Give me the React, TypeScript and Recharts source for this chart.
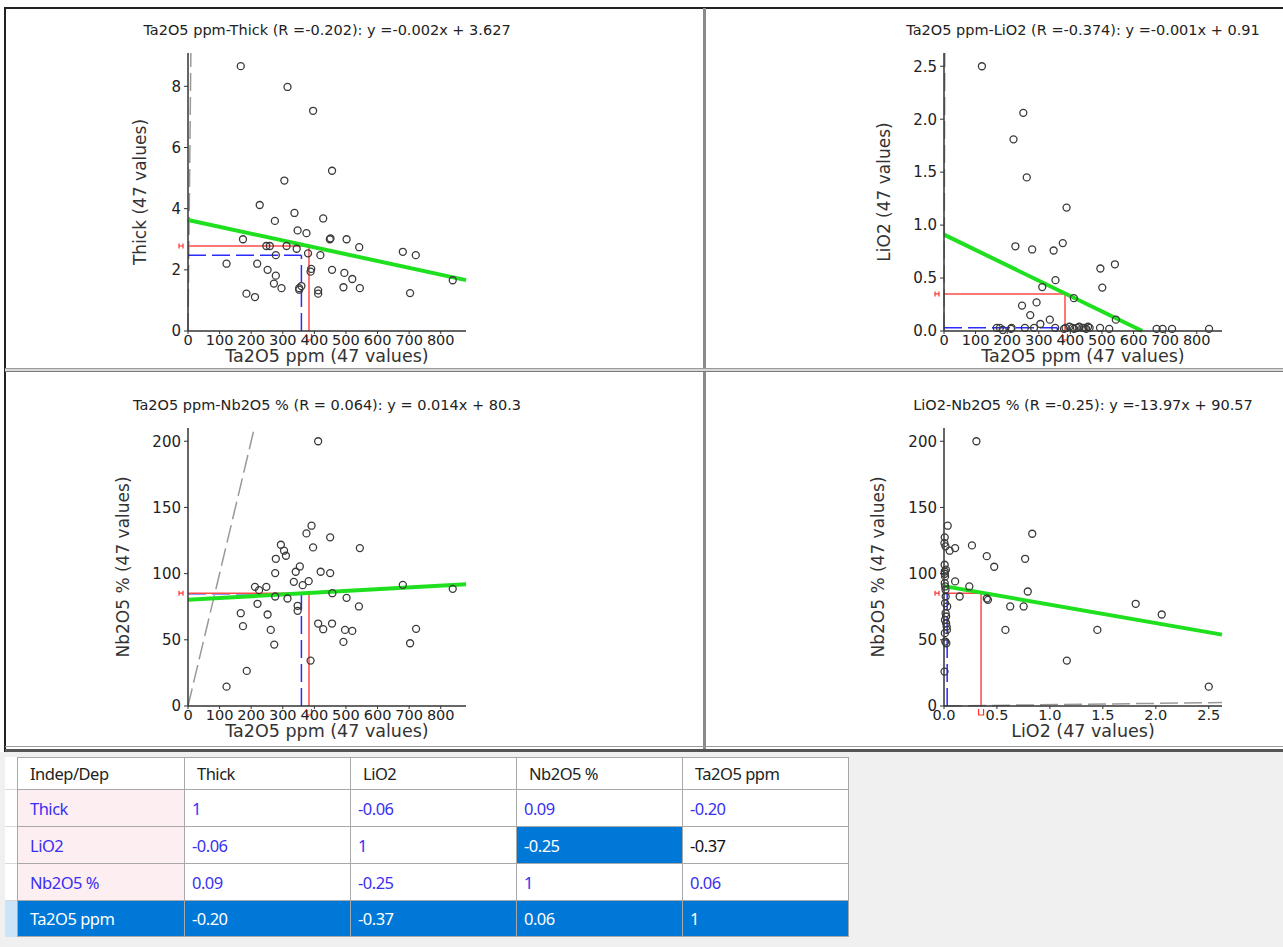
import React from "react";
import {
  ScatterChart,
  Scatter,
  XAxis,
  YAxis,
  ReferenceLine,
  ReferenceDot,
} from "recharts";

// Ta2O5 ppm vs Thick
const taThick: [number, number][] = [
  [167, 8.66], [315, 7.98], [396, 7.2], [456, 5.24], [305, 4.92], [227, 4.12], [337, 3.86], [275, 3.6],
  [428, 3.68], [347, 3.29], [375, 3.2], [174, 3.0], [451, 3.03], [449, 3.0], [502, 3.0], [248, 2.78],
  [259, 2.78], [312, 2.78], [344, 2.69], [542, 2.74], [680, 2.59], [721, 2.48], [278, 2.48], [380, 2.54],
  [419, 2.48], [122, 2.2], [219, 2.2], [252, 2.0], [278, 1.81], [390, 2.03], [388, 1.94], [456, 2.0],
  [495, 1.9], [520, 1.7], [272, 1.55], [296, 1.4], [352, 1.4], [359, 1.47], [492, 1.43], [544, 1.4],
  [412, 1.33], [412, 1.22], [185, 1.22], [212, 1.11], [703, 1.24], [838, 1.66], [352, 1.35],
];

// Ta2O5 ppm vs LiO2
const taLi: [number, number][] = [
  [120, 2.5], [251, 2.06], [220, 1.81], [262, 1.45], [388, 1.165], [226, 0.8], [279, 0.77], [347, 0.76],
  [376, 0.83], [495, 0.59], [541, 0.63], [353, 0.48], [501, 0.41], [311, 0.415], [411, 0.31], [247, 0.24],
  [293, 0.27], [273, 0.15], [335, 0.107], [305, 0.066], [544, 0.107], [167, 0.03], [177, 0.03], [214, 0.03],
  [256, 0.03], [285, 0.03], [397, 0.04], [407, 0.03], [421, 0.03], [438, 0.03], [456, 0.04], [461, 0.03],
  [494, 0.03], [523, 0.02], [673, 0.02], [692, 0.02], [722, 0.02], [839, 0.02], [380, 0.02], [385, 0.03],
  [412, 0.02], [428, 0.04], [445, 0.03], [450, 0.02], [186, 0.01], [212, 0.02], [352, 0.03],
];

// Ta2O5 ppm vs Nb2O5 %
const taNb: [number, number][] = [
  [412, 200], [391, 136.2], [375, 130.4], [450, 127.4], [544, 119.3], [396, 119.8], [294, 121.8], [304, 117.3],
  [310, 113.5], [278, 111.2], [354, 105.4], [341, 101.4], [276, 100.4], [420, 101.4], [450, 100.4], [335, 93.8],
  [382, 94.3], [363, 91.3], [212, 90.0], [248, 90.0], [225, 87.5], [680, 91.5], [838, 88.5], [457, 85.2],
  [276, 82.7], [315, 81.2], [502, 81.7], [220, 77.2], [347, 75.7], [347, 71.9], [541, 75.2], [167, 70.1],
  [252, 69.1], [174, 60.3], [412, 62.3], [428, 58.0], [456, 62.3], [262, 57.5], [497, 57.5], [520, 56.7],
  [722, 58.3], [492, 48.4], [273, 46.4], [703, 47.4], [388, 34.3], [186, 26.5], [122, 14.6],
];

// LiO2 vs Nb2O5 %
const liNb: [number, number][] = [
  [0.306, 200], [0.035, 136.2], [0.007, 127.4], [0.833, 130.1], [0.264, 121.3], [0.105, 119.3], [0.053, 117.3],
  [0.014, 120.6], [0.404, 113.2], [0.766, 111.2], [0.474, 105.2], [0.007, 101.6], [0.007, 99.9], [0.105, 94.1],
  [0.239, 90.3], [0.007, 92.8], [0.791, 86.5], [0.148, 82.7], [0.404, 81.2], [0.415, 80.2], [0.625, 75.2],
  [0.752, 75.2], [1.81, 77.2], [2.056, 69.1], [0.58, 57.5], [1.448, 57.5], [1.16, 34.3], [2.5, 14.6],
  [0.01, 77.7], [0.015, 70.1], [0.02, 62.5], [0.025, 60], [0.008, 55], [0.012, 48.7], [0.005, 26],
  [0.006, 106.7], [0.01, 97.9], [0.014, 87.8], [0.016, 82.7], [0.02, 67.6], [0.009, 65], [0.022, 47.4],
  [0.011, 90.3], [0.018, 103], [0.004, 123], [0.028, 57.5], [0.03, 75.2],
];

// means (red) and medians (blue)
const taMean = 383;
const taMedian = 359;
const thickMean = 2.78;
const thickMedian = 2.48;
const liMean = 0.35;
const liMedian = 0.03;
const nbMean = 85.2;
const nbMedian = 84.8;

const taTicks = [0, 100, 200, 300, 400, 500, 600, 700, 800];
const thickTicks = [0, 2, 4, 6, 8];
const liTicks = [0, 0.5, 1, 1.5, 2, 2.5];
const nbTicks = [0, 50, 100, 150, 200];

const tableHeader = ["Indep/Dep", "Thick", "LiO2", "Nb2O5 %", "Ta2O5 ppm"];
const rowNames = ["Thick", "LiO2", "Nb2O5 %", "Ta2O5 ppm"];
const corrValues = [
  ["1", "-0.06", "0.09", "-0.20"],
  ["-0.06", "1", "-0.25", "-0.37"],
  ["0.09", "-0.25", "1", "0.06"],
  ["-0.20", "-0.37", "0.06", "1"],
];

const PLOT = 278;
const FONT = "DejaVu Sans";

const dot = (p: any) => (
  <circle cx={p.cx} cy={p.cy} r={3.5} fill="none" stroke="#3a3a3a" strokeWidth={1.3} />
);

const markLeft = (p: any) => (
  <path
    d={`M${p.cx - 9} ${p.cy - 2.5}V${p.cy + 2.5}M${p.cx - 9} ${p.cy}H${p.cx - 5}M${p.cx - 5} ${p.cy - 2.5}V${p.cy + 2.5}`}
    stroke="#ff3030"
    strokeWidth={1.2}
    fill="none"
  />
);

const markBottom = (p: any) => (
  <path
    d={`M${p.cx - 2.5} ${p.cy + 3}V${p.cy + 9}H${p.cx + 2.5}V${p.cy + 3}`}
    stroke="#ff3030"
    strokeWidth={1.2}
    fill="none"
  />
);

interface PanelProps {
  title: string;
  plotLeft: number;
  plotTop: number;
  yAxisWidth: number;
  points: [number, number][];
  xMax: number;
  yMax: number;
  xTicks: number[];
  yTicks: number[];
  xLabel: string;
  yLabel: string;
  xFmt: (v: number) => string;
  yFmt: (v: number) => string;
  xMean: number;
  xMedian: number;
  yMean: number;
  yMedian: number;
  slope: number;
  icpt: number;
}

function Panel(p: PanelProps) {
  const data = p.points.map(([x, y]) => ({ x, y }));
  let x1 = p.xMax;
  let y1 = p.icpt + p.slope * x1;
  if (y1 < 0) {
    x1 = -p.icpt / p.slope;
    y1 = 0;
  }
  const diag = Math.min(p.xMax, p.yMax);
  const w = p.yAxisWidth + PLOT + 10;
  return (
    <>
      <div
        style={{
          position: "absolute",
          left: p.plotLeft - 200 + PLOT / 2,
          width: 400,
          top: p.plotTop - 31,
          textAlign: "center",
          fontFamily: FONT,
          fontSize: 14.5,
          color: "#222",
          whiteSpace: "nowrap",
        }}
      >
        {p.title}
      </div>
      <div style={{ position: "absolute", left: p.plotLeft - p.yAxisWidth, top: p.plotTop - 10 }}>
        <ScatterChart width={w} height={10 + PLOT + 50} margin={{ top: 10, right: 10, left: 0, bottom: 0 }}>
          <XAxis
            type="number"
            dataKey="x"
            domain={[0, p.xMax]}
            ticks={p.xTicks}
            interval={0}
            tickFormatter={p.xFmt}
            height={50}
            tickSize={3}
            tickMargin={1}
            axisLine={{ stroke: "#333", strokeWidth: 1.5 }}
            tickLine={{ stroke: "#333" }}
            tick={{ fontSize: 14.5, fill: "#222", fontFamily: FONT }}
            label={{ value: p.xLabel, position: "center", fontSize: 17.5, fill: "#333", fontFamily: FONT }}
          />
          <YAxis
            type="number"
            dataKey="y"
            domain={[0, p.yMax]}
            ticks={p.yTicks}
            interval={0}
            tickFormatter={p.yFmt}
            width={p.yAxisWidth}
            tickSize={4}
            tickMargin={3}
            axisLine={{ stroke: "#333", strokeWidth: 1.5 }}
            tickLine={{ stroke: "#333" }}
            tick={{ fontSize: 15, fill: "#222", fontFamily: FONT }}
            label={{ value: p.yLabel, angle: -90, position: "center", fontSize: 17, fill: "#333", fontFamily: FONT }}
          />
          <ReferenceLine
            segment={[{ x: 0, y: 0 }, { x: diag, y: diag }]}
            stroke="#999"
            strokeWidth={1.5}
            strokeDasharray="18 6"
          />
          <ReferenceLine
            segment={[{ x: 0, y: p.yMedian }, { x: p.xMedian, y: p.yMedian }]}
            stroke="#2b2bff"
            strokeWidth={1.5}
            strokeDasharray="18 6"
          />
          <ReferenceLine
            segment={[{ x: p.xMedian, y: 0 }, { x: p.xMedian, y: p.yMedian }]}
            stroke="#2b2bff"
            strokeWidth={1.5}
            strokeDasharray="18 6"
          />
          <ReferenceLine
            segment={[{ x: 0, y: p.yMean }, { x: p.xMean, y: p.yMean }]}
            stroke="#ff4a4a"
            strokeWidth={1.5}
          />
          <ReferenceLine
            segment={[{ x: p.xMean, y: 0 }, { x: p.xMean, y: p.yMean }]}
            stroke="#ff4a4a"
            strokeWidth={1.5}
          />
          <ReferenceDot x={0} y={p.yMean} shape={markLeft} ifOverflow="visible" />
          <ReferenceDot x={p.xMean} y={0} shape={markBottom} ifOverflow="visible" />
          <Scatter data={data} shape={dot} isAnimationActive={false} />
          <ReferenceLine
            segment={[{ x: 0, y: p.icpt }, { x: x1, y: y1 }]}
            stroke="#1ee01e"
            strokeWidth={4}
          />
        </ScatterChart>
      </div>
    </>
  );
}

const intFmt = (v: number) => String(v);
const oneDec = (v: number) => v.toFixed(1);

function CorrTable() {
  const blue = "#0078d7";
  const cellText = "#3a2ff0";
  return (
    <>
      <div style={{ position: "absolute", left: 0, top: 752, width: 1283, height: 195, background: "#f0f0f0" }} />
      <div style={{ position: "absolute", left: 5, top: 757, width: 12, height: 180, background: "#fff" }}>
        {[32, 69, 106, 143].map((t) => (
          <div key={t} style={{ position: "absolute", left: 0, top: t, width: 12, height: 1, background: "#d8d8d8" }} />
        ))}
        <div style={{ position: "absolute", left: 0, top: 144, width: 12, height: 36, background: "#cce4f7" }} />
      </div>
      <table
        style={{
          position: "absolute",
          left: 17,
          top: 757,
          borderCollapse: "collapse",
          fontFamily: "Noto Sans",
          fontSize: 16.5,
          letterSpacing: -0.5,
          background: "#fff",
        }}
      >
        <tbody>
          <tr style={{ height: 32 }}>
            {tableHeader.map((h, i) => (
              <td
                key={h}
                style={{
                  width: i === 0 ? 154 : 153,
                  border: "1px solid #a8a8a8",
                  padding: "0 0 0 12px",
                  color: "#222",
                }}
              >
                {h}
              </td>
            ))}
          </tr>
          {rowNames.map((r, ri) => {
            const selRow = ri === 3;
            return (
              <tr key={r} style={{ height: ri === 3 ? 36 : 37 }}>
                <td
                  style={{
                    border: "1px solid #a8a8a8",
                    padding: "0 0 0 12px",
                    background: selRow ? blue : "#fdeef2",
                    color: selRow ? "#fff" : cellText,
                  }}
                >
                  {r}
                </td>
                {corrValues[ri].map((v, ci) => {
                  const sel = selRow || (ri === 1 && ci === 2);
                  const black = ri === 1 && ci === 3;
                  return (
                    <td
                      key={ci}
                      style={{
                        border: "1px solid #a8a8a8",
                        padding: "0 0 0 7px",
                        background: sel ? blue : "#fff",
                        color: sel ? "#fff" : black ? "#111" : cellText,
                      }}
                    >
                      {v}
                    </td>
                  );
                })}
              </tr>
            );
          })}
        </tbody>
      </table>
    </>
  );
}

export default function App() {
  return (
    <div style={{ position: "absolute", left: 0, top: 0, width: 1283, height: 947, background: "#fff", overflow: "hidden" }}>
      {/* frame */}
      <div style={{ position: "absolute", left: 4, top: 7, width: 1279, height: 2, background: "#222" }} />
      <div style={{ position: "absolute", left: 4, top: 7, width: 2, height: 745, background: "#222" }} />
      <div style={{ position: "absolute", left: 703, top: 8, width: 3, height: 744, background: "#8a8a8a" }} />
      <div style={{ position: "absolute", left: 5, top: 368, width: 1278, height: 1, background: "#9a9a9a" }} />
      <div style={{ position: "absolute", left: 5, top: 369, width: 1278, height: 2, background: "#d8d8d8" }} />
      <div style={{ position: "absolute", left: 5, top: 371, width: 1278, height: 1, background: "#7a7a7a" }} />
      <div style={{ position: "absolute", left: 5, top: 746, width: 1278, height: 1, background: "#9a9a9a" }} />
      <div style={{ position: "absolute", left: 5, top: 749, width: 1278, height: 3, background: "#555" }} />

      <Panel
        title="Ta2O5 ppm-Thick (R =-0.202): y =-0.002x + 3.627"
        plotLeft={188}
        plotTop={53}
        yAxisWidth={96}
        points={taThick}
        xMax={880}
        yMax={9.09}
        xTicks={taTicks}
        yTicks={thickTicks}
        xLabel="Ta2O5 ppm (47 values)"
        yLabel="Thick (47 values)"
        xFmt={intFmt}
        yFmt={intFmt}
        xMean={taMean}
        xMedian={taMedian}
        yMean={thickMean}
        yMedian={thickMedian}
        slope={-0.00223}
        icpt={3.627}
      />
      <Panel
        title="Ta2O5 ppm-LiO2 (R =-0.374): y =-0.001x + 0.91"
        plotLeft={944}
        plotTop={53}
        yAxisWidth={120}
        points={taLi}
        xMax={880}
        yMax={2.625}
        xTicks={taTicks}
        yTicks={liTicks}
        xLabel="Ta2O5 ppm (47 values)"
        yLabel="LiO2 (47 values)"
        xFmt={intFmt}
        yFmt={oneDec}
        xMean={taMean}
        xMedian={taMedian}
        yMean={liMean}
        yMedian={liMedian}
        slope={-0.00145}
        icpt={0.91}
      />
      <Panel
        title="Ta2O5 ppm-Nb2O5 % (R = 0.064): y = 0.014x + 80.3"
        plotLeft={188}
        plotTop={428}
        yAxisWidth={130}
        points={taNb}
        xMax={880}
        yMax={210}
        xTicks={taTicks}
        yTicks={nbTicks}
        xLabel="Ta2O5 ppm (47 values)"
        yLabel="Nb2O5 % (47 values)"
        xFmt={intFmt}
        yFmt={intFmt}
        xMean={taMean}
        xMedian={taMedian}
        yMean={nbMean}
        yMedian={nbMedian}
        slope={0.0133}
        icpt={80.3}
      />
      <Panel
        title="LiO2-Nb2O5 % (R =-0.25): y =-13.97x + 90.57"
        plotLeft={944}
        plotTop={428}
        yAxisWidth={132}
        points={liNb}
        xMax={2.625}
        yMax={210}
        xTicks={liTicks}
        yTicks={nbTicks}
        xLabel="LiO2 (47 values)"
        yLabel="Nb2O5 % (47 values)"
        xFmt={oneDec}
        yFmt={intFmt}
        xMean={liMean}
        xMedian={liMedian}
        yMean={nbMean}
        yMedian={nbMedian}
        slope={-13.97}
        icpt={90.57}
      />
      <CorrTable />
    </div>
  );
}
